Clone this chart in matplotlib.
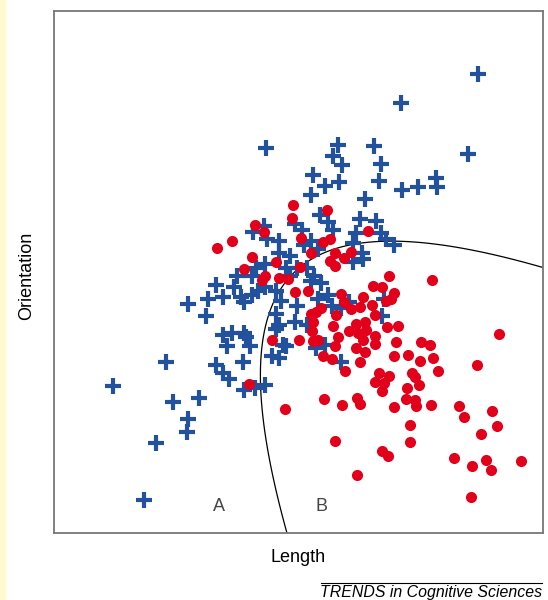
import numpy as np
from matplotlib import pyplot as plt
from matplotlib.patches import Rectangle
from matplotlib.lines import Line2D

# category A (blue crosses): length, orientation (arbitrary units 0-100)
a_length = [86.8, 70.9, 43.4, 58.1, 57.1, 58.9, 65.4, 66.8, 84.6, 52.9,
            55.4, 58.2, 66.4, 71.1, 74.4, 78.1, 78.4, 52.5, 63.6, 54.3,
            62.5, 65.9, 42.9, 40.7, 49.3, 50.7, 56.1, 57.1, 61.8, 66.8,
            67.9, 69.6, 61.1, 62.9, 61.1, 63.2, 43.6, 46.1, 46.1, 48.2,
            51.1, 52.5, 53.9, 43.2, 41.4, 40.4, 37.5, 36.8, 33.2, 34.6,
            38.2, 38.9, 40.4, 41.8, 43.2, 45.4, 47.5, 48.2, 49.6, 51.8,
            53.2, 54.6, 52.5, 27.5, 31.4, 31.1, 46.4, 45.4, 46.1, 49.6,
            49.3, 51.8, 53.9, 56.1, 56.8, 58.6, 60.4, 67.5, 67.1, 34.6,
            36.4, 38.9, 35.4, 40.0, 39.3, 45.4, 46.8, 46.1, 44.6, 47.5,
            53.6, 55.4, 58.6, 33.2, 34.6, 35.7, 38.6, 38.9, 41.1, 43.2,
            22.9, 12.1, 24.3, 29.6, 27.5, 27.1, 20.9, 18.4]
a_orient = [87.9, 82.4, 73.8, 74.4, 72.2, 70.5, 74.1, 70.7, 72.7, 68.5,
            66.5, 67.3, 67.5, 65.8, 66.3, 68.0, 66.2, 64.7, 64.0, 61.0,
            60.1, 59.7, 58.8, 57.7, 59.2, 58.1, 59.6, 58.1, 57.4, 57.4,
            56.3, 55.2, 55.5, 53.7, 51.9, 52.4, 56.3, 55.9, 53.7, 53.0,
            55.2, 55.9, 54.4, 51.5, 50.8, 49.3, 49.3, 47.1, 47.5, 45.3,
            45.3, 44.2, 45.6, 46.4, 47.1, 46.4, 50.8, 49.3, 50.8, 50.8,
            49.3, 47.8, 48.2, 43.8, 44.9, 41.6, 44.5, 42.0, 39.8, 43.4,
            40.5, 39.8, 44.9, 45.6, 43.4, 43.1, 44.2, 44.9, 41.6, 37.9,
            38.3, 38.3, 35.8, 35.8, 37.6, 39.0, 36.1, 33.6, 33.9, 35.8,
            35.4, 36.1, 32.8, 32.1, 30.6, 29.5, 32.8, 27.3, 27.7, 28.4,
            32.8, 28.2, 25.1, 25.9, 21.8, 19.3, 17.2, 6.4]

# category B (red dots)
b_length = [48.8, 55.9, 48.6, 41.1, 43.0, 33.4, 36.4, 50.6, 55.0, 56.4,
            64.3, 40.4, 45.4, 52.5, 56.4, 57.5, 59.3, 60.7, 57.4, 38.8,
            43.2, 42.5, 46.1, 47.9, 50.4, 49.3, 52.0, 68.6, 77.4, 65.2,
            67.1, 69.6, 67.9, 68.9, 58.6, 59.3, 63.2, 65.0, 62.5, 60.7,
            54.6, 53.6, 52.5, 57.7, 65.7, 52.9, 52.7, 57.1, 61.8, 63.6,
            60.4, 62.1, 63.8, 68.2, 70.4, 65.7, 44.5, 50.0, 52.9, 53.9,
            58.1, 63.1, 65.7, 57.5, 70.0, 75.0, 76.8, 55.0, 56.8, 61.8,
            63.6, 62.5, 69.6, 72.4, 74.8, 77.5, 59.5, 78.6, 39.9, 66.4,
            68.6, 65.7, 67.5, 67.1, 73.2, 73.9, 74.6, 72.1, 90.9, 86.6,
            55.2, 58.9, 61.9, 62.6, 69.6, 71.9, 73.9, 74.1, 77.1, 47.3,
            82.9, 83.8, 89.6, 90.6, 87.4, 72.9, 72.9, 57.4, 67.1, 68.4,
            81.9, 85.4, 88.4, 89.3, 95.6, 61.9, 85.2]
b_orient = [62.9, 61.9, 60.3, 59.0, 57.6, 54.6, 56.0, 56.5, 55.8, 56.3,
            57.9, 52.8, 51.9, 53.6, 52.2, 53.7, 52.6, 53.8, 51.1, 50.5,
            49.2, 48.4, 48.9, 48.6, 51.0, 46.2, 46.4, 49.2, 48.4, 47.3,
            47.1, 46.0, 44.5, 44.9, 45.8, 44.2, 45.3, 43.7, 43.2, 42.9,
            43.1, 42.3, 42.0, 41.8, 41.8, 40.5, 38.7, 39.6, 40.1, 40.5,
            38.7, 38.3, 38.9, 39.4, 39.6, 37.7, 37.0, 37.0, 36.7, 37.0,
            37.6, 37.0, 36.3, 35.8, 36.5, 36.6, 36.1, 33.9, 33.3, 35.4,
            34.7, 32.8, 33.9, 34.1, 33.0, 33.6, 31.0, 31.1, 28.6, 30.6,
            30.0, 29.0, 28.8, 27.2, 30.6, 29.9, 28.3, 27.7, 38.2, 32.2,
            25.7, 24.6, 25.9, 24.8, 24.2, 25.6, 25.5, 24.4, 24.5, 23.7,
            24.4, 22.3, 23.4, 20.5, 18.9, 20.7, 17.4, 17.6, 15.8, 14.7,
            14.4, 12.8, 14.0, 12.1, 13.8, 11.2, 6.9]

# points (quadratic bound)
bound_length = [47.6, 45.8, 43.1, 42.3, 42.5, 43.6, 44.8, 46.6, 50.3, 53.4,
                59.9, 66.7, 73.4, 80.4, 87.1, 93.9, 100.0]
bound_orient = [0.6, 6.3, 17.8, 27.4, 34.5, 40.2, 44.1, 47.1, 50.4, 52.7,
                55.6, 56.1, 55.9, 54.8, 53.6, 52.3, 51.1]

blue = '#22519e'
red = '#e2001a'

fig = plt.figure(figsize=(5.48, 6.0), dpi=100)
fig.patches.append(Rectangle((0, 0), 5 / 548, 1, transform=fig.transFigure,
                             color='#fffad2', zorder=0))
ax = fig.add_axes([54 / 548, 67 / 600, 489 / 548, 522 / 600])

# fit a conic through the boundary points and draw it as a contour
bx = np.array(bound_length)
by = np.array(bound_orient)
M = np.column_stack([bx**2, bx * by, by**2, bx, by, np.ones_like(bx)])
coef = np.linalg.svd(M)[2][-1]
gx, gy = np.meshgrid(np.linspace(0, 100, 600), np.linspace(0, 100, 600))
gz = (coef[0] * gx**2 + coef[1] * gx * gy + coef[2] * gy**2
      + coef[3] * gx + coef[4] * gy + coef[5])
ax.contour(gx, gy, gz, levels=[0], colors='black', linewidths=0.9, zorder=1)

ax.plot(a_length, a_orient, linestyle='none', marker='+', markersize=11.5,
        markeredgewidth=3.0, color=blue, zorder=2)
ax.plot(b_length, b_orient, linestyle='none', marker='o', markersize=8,
        markeredgewidth=0, color=red, zorder=3)

ax.text(33.7, 5.0, 'A', ha='center', va='center', fontsize=13,
        color='#444444', family='Liberation Sans')
ax.text(54.8, 5.0, 'B', ha='center', va='center', fontsize=13,
        color='#444444', family='Liberation Sans')

ax.set_xlim(0, 100)
ax.set_ylim(0, 100)
ax.set_xticks([])
ax.set_yticks([])
for s in ax.spines.values():
    s.set_color('#777777')
    s.set_linewidth(1.3)

fig.text(298 / 548, 1 - 557 / 600, 'Length', ha='center', va='center',
         fontsize=13, family='Liberation Sans')
fig.text(27 / 548, 1 - 276 / 600, 'Orientation', ha='center', va='center',
         rotation=90, fontsize=13, family='Liberation Sans')

fig.add_artist(Line2D([321 / 548, 542 / 548], [1 - 583 / 600, 1 - 583 / 600],
                      transform=fig.transFigure, color='black', linewidth=0.8))
fig.text(542 / 548, 1 - 593 / 600, 'TRENDS in Cognitive Sciences',
         ha='right', va='center', fontsize=11.4, style='italic',
         family='Liberation Sans')

fig.savefig('out.png', dpi=100)
